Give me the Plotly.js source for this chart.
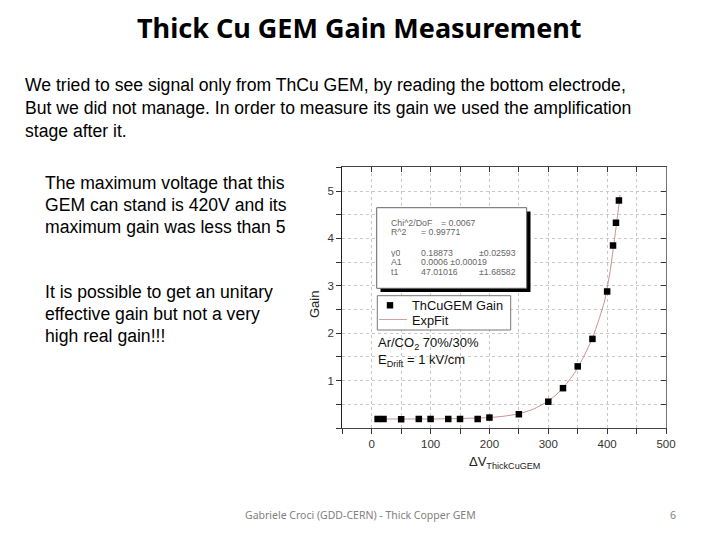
<!DOCTYPE html>
<html>
<head>
<meta charset="utf-8">
<script src="https://cdn.plot.ly/plotly-3.0.1.min.js"></script>
<style>
html,body{margin:0;padding:0;background:#fff;}
#chart{width:720px;height:540px;}
</style>
</head>
<body>
<div id="chart"></div>
<script>
// ---- data ----
const voltage = [10, 20, 50, 80, 100, 130, 150, 180, 200, 250, 300, 325, 350, 375, 400, 410, 415, 420];
const gain    = [0.19, 0.19, 0.185, 0.19, 0.19, 0.19, 0.19, 0.19, 0.22, 0.29, 0.555, 0.84, 1.30, 1.88, 2.88, 3.85, 4.33, 4.80];
const fitVoltage = [5, 50, 100, 150, 200, 225, 250, 275, 300, 315, 330, 345, 360, 375, 385, 395, 405, 410, 415, 420, 422];
const fitGain    = [0.19, 0.19, 0.19, 0.20, 0.22, 0.25, 0.30, 0.40, 0.57, 0.72, 0.92, 1.17, 1.50, 1.90, 2.25, 2.65, 3.30, 3.75, 4.22, 4.72, 4.92];
const xTickVals = [-50, 0, 50, 100, 150, 200, 250, 300, 350, 400, 450, 500];
const xTickText = ['', '0', '', '100', '', '200', '', '300', '', '400', '', '500'];
const yTickVals = [0, 0.5, 1, 1.5, 2, 2.5, 3, 3.5, 4, 4.5, 5, 5.5];
const yTickText = ['', '', '1', '', '2', '', '3', '', '4', '', '5', ''];
const seriesNames = ['ThCuGEM Gain', 'ExpFit'];
const fitStats = [
  ['Chi^2/DoF', '= 0.0067', ''],
  ['R^2', '= 0.99771', ''],
  ['y0', '0.18873', '±0.02593'],
  ['A1', '0.0006 ±0.00019', ''],
  ['t1', '47.01016', '±1.68582']
];
const titleText = 'Thick Cu GEM Gain Measurement';
const introLines = [
  'We tried to see signal only from ThCu GEM, by reading the bottom electrode,',
  'But we did not manage. In order to measure its gain we used the amplification',
  'stage after it.'
];
const noteA = ['The maximum voltage that this', 'GEM can stand is 420V and its', 'maximum gain was less than 5'];
const noteB = ['It is possible to get an unitary', 'effective gain but not a very', 'high real gain!!!'];
const footerText = 'Gabriele Croci (GDD-CERN) - Thick Copper GEM';
const pageNum = '6';

// ---- layout helpers (pixel -> paper) ----
const W = 720, H = 540;
const px = x => x / W;
const py = y => 1 - y / H;

const L = 342.3, R = 666, T = 167.3, B = 428;

const ann = [];
function txt(text, x, y, opts) {
  ann.push(Object.assign({
    text: text, x: px(x), y: py(y), xref: 'paper', yref: 'paper',
    showarrow: false, xanchor: 'left', yanchor: 'middle',
    font: {family: 'Liberation Sans, Arial, sans-serif', size: 17.6, color: '#000'}
  }, opts || {}));
}

txt(titleText, 359, 28, {xanchor: 'center', font: {family: 'Noto Sans, sans-serif', size: 27, color: '#000', weight: 700}});
introLines.forEach((t, i) => txt(t, 23, 85 + i * 23));
noteA.forEach((t, i) => txt(t, 43, 183 + i * 22));
noteB.forEach((t, i) => txt(t, 43, 292 + i * 22));
txt(footerText, 360, 515, {xanchor: 'center', font: {family: 'Noto Sans, sans-serif', size: 10.5, color: '#7f7f7f'}});
txt(pageNum, 673, 515, {xanchor: 'center', font: {family: 'Noto Sans, sans-serif', size: 10.5, color: '#7f7f7f'}});

// axis titles
txt('Gain', 314, 305, {xanchor: 'center', textangle: -90, font: {family: 'Liberation Sans, Arial, sans-serif', size: 13, color: '#222'}});
txt('ΔV<sub>ThickCuGEM</sub>', 505, 462, {xanchor: 'center', font: {family: 'Liberation Sans, Arial, sans-serif', size: 13, color: '#222'}});

// fit statistics box text
const fs = {family: 'Liberation Sans, Arial, sans-serif', size: 8.8, color: '#666'};
const st = {font: fs, height: 9, borderpad: 0};
const rowsY = [222.7, 232, 252.5, 261.5, 271];
txt(fitStats[0][0], 390, rowsY[0], st); txt(fitStats[0][1], 440, rowsY[0], st);
txt(fitStats[1][0], 390, rowsY[1], st); txt(fitStats[1][1], 420, rowsY[1], st);
txt(fitStats[2][0], 390, rowsY[2], st); txt(fitStats[2][1], 420, rowsY[2], st); txt(fitStats[2][2], 478, rowsY[2], st);
txt(fitStats[3][0], 390, rowsY[3], st); txt(fitStats[3][1], 420, rowsY[3], st);
txt(fitStats[4][0], 390, rowsY[4], st); txt(fitStats[4][1], 420, rowsY[4], st); txt(fitStats[4][2], 478, rowsY[4], st);

// legend (drawn manually to match the compact original box)
const lf = {family: 'Liberation Sans, Arial, sans-serif', size: 12.8, color: '#111'};
txt(seriesNames[0], 410, 305.5, {font: lf});
txt(seriesNames[1], 410, 320.5, {font: lf});

// gas annotation
const gf = {family: 'Liberation Sans, Arial, sans-serif', size: 13, color: '#111'};
txt('Ar/CO<sub>2</sub> 70%/30%', 376, 343, {font: gf});
txt('E<sub>Drift</sub> = 1 kV/cm', 376, 360, {font: gf});

const shapes = [
  // shadow and box for fit stats
  {type: 'rect', xref: 'paper', yref: 'paper', x0: px(380.5), x1: px(530.5), y0: py(292), y1: py(211.5), fillcolor: '#000', line: {width: 0}, layer: 'above'},
  {type: 'rect', xref: 'paper', yref: 'paper', x0: px(376.7), x1: px(526.7), y0: py(288.3), y1: py(207.7), fillcolor: '#fff', line: {width: 1, color: '#666'}, layer: 'above'},
  // legend box and symbols
  {type: 'rect', xref: 'paper', yref: 'paper', x0: px(377.3), x1: px(510.7), y0: py(330), y1: py(295.7), fillcolor: '#fff', line: {width: 1, color: '#777'}, layer: 'above'},
  {type: 'rect', xref: 'paper', yref: 'paper', x0: px(386.8), x1: px(393.2), y0: py(308.5), y1: py(302.1), fillcolor: '#000', line: {width: 0}, layer: 'above'},
  {type: 'line', xref: 'paper', yref: 'paper', x0: px(379), x1: px(407), y0: py(319.5), y1: py(319.5), line: {width: 1, color: '#d0a0a0'}, layer: 'above'}
];

const gridColor = '#c8c8c8';
const axisFont = {family: 'Liberation Sans, Arial, sans-serif', size: 11.5, color: '#333'};

const traces = [
  {x: fitVoltage, y: fitGain, name: seriesNames[1], mode: 'lines', type: 'scatter',
   line: {color: '#c89090', width: 1, shape: 'spline', smoothing: 0.6}},
  {x: voltage, y: gain, name: seriesNames[0], mode: 'markers', type: 'scatter',
   marker: {symbol: 'square', size: 6.5, color: '#000', line: {width: 0}}, cliponaxis: false},
  // invisible trace to activate top/right axes
  {x: [0], y: [0], xaxis: 'x2', yaxis: 'y2', mode: 'markers', marker: {opacity: 0}, showlegend: false, hoverinfo: 'skip'}
];

const layout = {
  width: W, height: H,
  margin: {l: 0, r: 0, t: 0, b: 0},
  paper_bgcolor: '#fff', plot_bgcolor: '#fff',
  showlegend: false,
  xaxis: {domain: [px(L), px(R)], range: [-50, 500], anchor: 'y',
          tickmode: 'array', tickvals: xTickVals, ticktext: xTickText,
          ticks: 'outside', ticklen: 5, tickcolor: '#333',
          showgrid: true, gridcolor: gridColor, griddash: 'dot', gridwidth: 1,
          showline: true, linecolor: '#444', linewidth: 1, zeroline: false,
          tickfont: axisFont, fixedrange: true},
  yaxis: {domain: [py(B), py(T)], range: [0, 5.5], anchor: 'x',
          tickmode: 'array', tickvals: yTickVals, ticktext: yTickText,
          ticks: 'outside', ticklen: 5, tickcolor: '#333',
          showgrid: true, gridcolor: gridColor, griddash: 'dot', gridwidth: 1,
          showline: true, linecolor: '#222', linewidth: 1, zeroline: false,
          tickfont: axisFont, fixedrange: true},
  xaxis2: {domain: [px(L), px(R)], range: [-50, 500], overlaying: 'x', side: 'top', anchor: 'y2',
           tickmode: 'array', tickvals: xTickVals, showticklabels: false,
           ticks: 'inside', ticklen: 5, tickcolor: '#333', showgrid: false,
           showline: true, linecolor: '#444', linewidth: 1, zeroline: false},
  yaxis2: {domain: [py(B), py(T)], range: [0, 5.5], overlaying: 'y', side: 'right', anchor: 'x2',
           tickmode: 'array', tickvals: yTickVals, showticklabels: false,
           ticks: 'inside', ticklen: 5, tickcolor: '#333', showgrid: false,
           showline: true, linecolor: '#777', linewidth: 1, zeroline: false},
  annotations: ann,
  shapes: shapes
};

Plotly.newPlot('chart', traces, layout, {staticPlot: true, displayModeBar: false});
</script>
</body>
</html>
